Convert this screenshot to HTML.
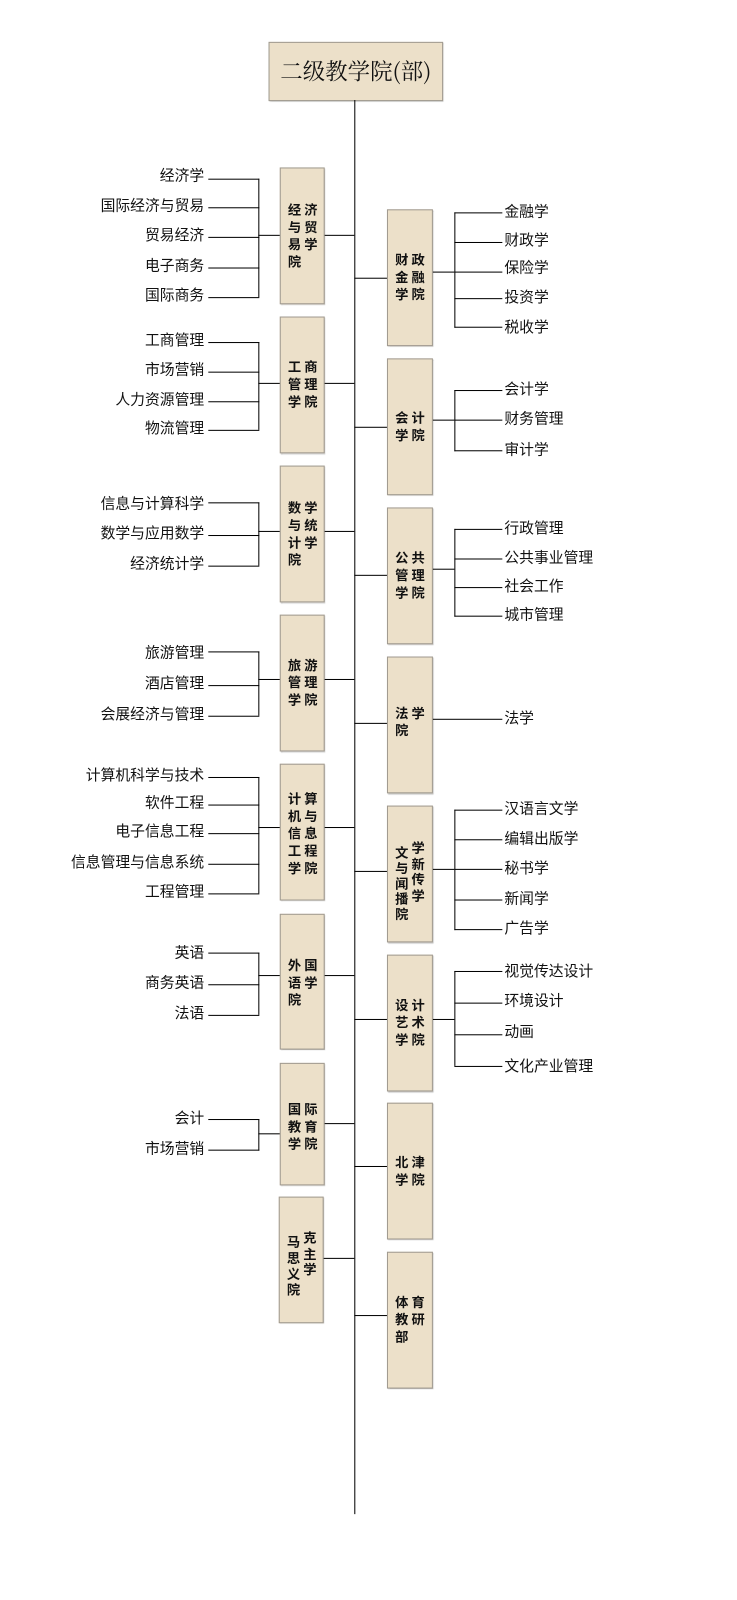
<!DOCTYPE html>
<html><head><meta charset="utf-8"><style>
body{margin:0;width:737px;height:1600px;background:#fff;position:relative;font-family:"Liberation Sans","Noto Sans CJK SC",sans-serif;overflow:hidden}
#w{position:absolute;left:0;top:0;width:722px;height:1567px;transform:scale(1.021);transform-origin:0 0}
.b{position:absolute;background:#ece0c9;border:1px solid #a09a90;box-sizing:border-box;box-shadow:1px 1px 1px #bbb}
.t{position:absolute;font-weight:bold;font-size:13px;line-height:17px;letter-spacing:3px;color:#111}
.h{position:absolute;height:1px;background:#000}
.v{position:absolute;width:1px;background:#000}
.l{position:absolute;font-size:14.5px;line-height:16px;color:#111;white-space:nowrap}
.lr{text-align:right;width:200px;left:0}
</style></head><body><div id="w">
<div class="b" style="left:263px;top:41px;width:171px;height:58px"></div>
<div style="position:absolute;left:263px;top:41px;width:171px;height:58px;line-height:58px;text-align:center;font-size:22px;font-family:'Noto Serif CJK SC',serif;color:#111">二级教学院(部)</div>
<div class="v" style="left:347px;top:98px;height:1385px"></div>

<!-- left boxes -->
<div class="b" style="left:274px;top:164px;width:44px;height:134px"></div><div class="t" style="left:282px;top:197px">经济<br>与贸<br>易学<br>院</div>
<div class="b" style="left:274px;top:310px;width:44px;height:134px"></div><div class="t" style="left:282px;top:351px">工商<br>管理<br>学院</div>
<div class="b" style="left:274px;top:456px;width:44px;height:134px"></div><div class="t" style="left:282px;top:489px">数学<br>与统<br>计学<br>院</div>
<div class="b" style="left:274px;top:602px;width:44px;height:134px"></div><div class="t" style="left:282px;top:643px">旅游<br>管理<br>学院</div>
<div class="b" style="left:274px;top:748px;width:44px;height:134px"></div><div class="t" style="left:282px;top:774px">计算<br>机与<br>信息<br>工程<br>学院</div>
<div class="b" style="left:274px;top:895px;width:44px;height:133px"></div><div class="t" style="left:282px;top:937px">外国<br>语学<br>院</div>
<div class="b" style="left:274px;top:1041px;width:44px;height:120px"></div><div class="t" style="left:282px;top:1078px">国际<br>教育<br>学院</div>
<div class="b" style="left:273px;top:1172px;width:44px;height:124px"></div><div class="t" style="left:281px;top:1209px;letter-spacing:0;line-height:15.5px">马<br>思<br>义<br>院</div><div class="t" style="left:297px;top:1205px;letter-spacing:0;line-height:15.5px">克<br>主<br>学</div>

<!-- right boxes -->
<div class="b" style="left:379px;top:205px;width:45px;height:134px"></div><div class="t" style="left:387px;top:246px">财政<br>金融<br>学院</div>
<div class="b" style="left:379px;top:351px;width:45px;height:134px"></div><div class="t" style="left:387px;top:401px">会计<br>学院</div>
<div class="b" style="left:379px;top:497px;width:45px;height:134px"></div><div class="t" style="left:387px;top:538px">公共<br>管理<br>学院</div>
<div class="b" style="left:379px;top:643px;width:45px;height:134px"></div><div class="t" style="left:387px;top:690px">法学<br>院</div>
<div class="b" style="left:379px;top:789px;width:45px;height:134px"></div><div class="t" style="left:387px;top:828px;letter-spacing:0;line-height:15px">文<br>与<br>闻<br>播<br>院</div><div class="t" style="left:403px;top:823px;letter-spacing:0;line-height:15.5px">学<br>新<br>传<br>学</div>
<div class="b" style="left:379px;top:935px;width:45px;height:134px"></div><div class="t" style="left:387px;top:976px">设计<br>艺术<br>学院</div>
<div class="b" style="left:379px;top:1080px;width:45px;height:134px"></div><div class="t" style="left:387px;top:1130px">北津<br>学院</div>
<div class="b" style="left:379px;top:1226px;width:45px;height:134px"></div><div class="t" style="left:387px;top:1267px">体育<br>教研<br>部</div>

<!-- trunk connectors -->
<div class="h" style="left:318px;top:230px;width:29px"></div>
<div class="h" style="left:318px;top:375px;width:29px"></div>
<div class="h" style="left:318px;top:520px;width:29px"></div>
<div class="h" style="left:318px;top:665px;width:29px"></div>
<div class="h" style="left:318px;top:810px;width:29px"></div>
<div class="h" style="left:318px;top:955px;width:29px"></div>
<div class="h" style="left:318px;top:1100px;width:29px"></div>
<div class="h" style="left:317px;top:1232px;width:30px"></div>
<div class="h" style="left:347px;top:272px;width:32px"></div>
<div class="h" style="left:347px;top:418px;width:32px"></div>
<div class="h" style="left:347px;top:563px;width:32px"></div>
<div class="h" style="left:347px;top:708px;width:32px"></div>
<div class="h" style="left:347px;top:853px;width:32px"></div>
<div class="h" style="left:347px;top:998px;width:32px"></div>
<div class="h" style="left:347px;top:1142px;width:32px"></div>
<div class="h" style="left:347px;top:1288px;width:32px"></div>

<!-- left leaf groups -->
<div class="h" style="left:253px;top:230px;width:21px"></div><div class="v" style="left:253px;top:175px;height:116px"></div>
<div class="h" style="left:204px;top:175px;width:50px"></div><div class="h" style="left:204px;top:203px;width:50px"></div><div class="h" style="left:204px;top:232px;width:50px"></div><div class="h" style="left:204px;top:262px;width:50px"></div><div class="h" style="left:204px;top:291px;width:50px"></div>
<div class="l lr" style="top:165px">经济学</div><div class="l lr" style="top:194px">国际经济与贸易</div><div class="l lr" style="top:223px">贸易经济</div><div class="l lr" style="top:253px">电子商务</div><div class="l lr" style="top:282px">国际商务</div>

<div class="h" style="left:253px;top:375px;width:21px"></div><div class="v" style="left:253px;top:335px;height:86px"></div>
<div class="h" style="left:204px;top:335px;width:50px"></div><div class="h" style="left:204px;top:364px;width:50px"></div><div class="h" style="left:204px;top:393px;width:50px"></div><div class="h" style="left:204px;top:421px;width:50px"></div>
<div class="l lr" style="top:326px">工商管理</div><div class="l lr" style="top:355px">市场营销</div><div class="l lr" style="top:384px">人力资源管理</div><div class="l lr" style="top:412px">物流管理</div>

<div class="h" style="left:253px;top:520px;width:21px"></div><div class="v" style="left:253px;top:492px;height:62px"></div>
<div class="h" style="left:204px;top:492px;width:50px"></div><div class="h" style="left:204px;top:524px;width:50px"></div><div class="h" style="left:204px;top:554px;width:50px"></div>
<div class="l lr" style="top:486px">信息与计算科学</div><div class="l lr" style="top:515px">数学与应用数学</div><div class="l lr" style="top:545px">经济统计学</div>

<div class="h" style="left:253px;top:665px;width:21px"></div><div class="v" style="left:253px;top:638px;height:63px"></div>
<div class="h" style="left:204px;top:638px;width:50px"></div><div class="h" style="left:204px;top:671px;width:50px"></div><div class="h" style="left:204px;top:701px;width:50px"></div>
<div class="l lr" style="top:632px">旅游管理</div><div class="l lr" style="top:662px">酒店管理</div><div class="l lr" style="top:692px">会展经济与管理</div>

<div class="h" style="left:253px;top:810px;width:21px"></div><div class="v" style="left:253px;top:761px;height:114px"></div>
<div class="h" style="left:204px;top:761px;width:50px"></div><div class="h" style="left:204px;top:788px;width:50px"></div><div class="h" style="left:204px;top:816px;width:50px"></div><div class="h" style="left:204px;top:846px;width:50px"></div><div class="h" style="left:204px;top:875px;width:50px"></div>
<div class="l lr" style="top:752px">计算机科学与技术</div><div class="l lr" style="top:779px">软件工程</div><div class="l lr" style="top:807px">电子信息工程</div><div class="l lr" style="top:837px">信息管理与信息系统</div><div class="l lr" style="top:866px">工程管理</div>

<div class="h" style="left:253px;top:955px;width:21px"></div><div class="v" style="left:253px;top:933px;height:61px"></div>
<div class="h" style="left:204px;top:933px;width:50px"></div><div class="h" style="left:204px;top:964px;width:50px"></div><div class="h" style="left:204px;top:994px;width:50px"></div>
<div class="l lr" style="top:926px">英语</div><div class="l lr" style="top:955px">商务英语</div><div class="l lr" style="top:985px">法语</div>

<div class="h" style="left:253px;top:1110px;width:21px"></div><div class="v" style="left:253px;top:1096px;height:31px"></div>
<div class="h" style="left:204px;top:1096px;width:50px"></div><div class="h" style="left:204px;top:1126px;width:50px"></div>
<div class="l lr" style="top:1088px">会计</div><div class="l lr" style="top:1118px">市场营销</div>

<!-- right leaf groups -->
<div class="h" style="left:424px;top:266px;width:21px"></div><div class="v" style="left:445px;top:208px;height:113px"></div>
<div class="h" style="left:445px;top:208px;width:47px"></div><div class="h" style="left:445px;top:237px;width:47px"></div><div class="h" style="left:445px;top:266px;width:47px"></div><div class="h" style="left:445px;top:292px;width:47px"></div><div class="h" style="left:445px;top:320px;width:47px"></div>
<div class="l" style="left:494px;top:200px">金融学</div><div class="l" style="left:494px;top:228px">财政学</div><div class="l" style="left:494px;top:255px">保险学</div><div class="l" style="left:494px;top:284px">投资学</div><div class="l" style="left:494px;top:313px">税收学</div>

<div class="h" style="left:424px;top:411px;width:21px"></div><div class="v" style="left:445px;top:382px;height:60px"></div>
<div class="h" style="left:445px;top:382px;width:47px"></div><div class="h" style="left:445px;top:411px;width:47px"></div><div class="h" style="left:445px;top:441px;width:47px"></div>
<div class="l" style="left:494px;top:374px">会计学</div><div class="l" style="left:494px;top:403px">财务管理</div><div class="l" style="left:494px;top:433px">审计学</div>

<div class="h" style="left:424px;top:557px;width:21px"></div><div class="v" style="left:445px;top:518px;height:86px"></div>
<div class="h" style="left:445px;top:518px;width:47px"></div><div class="h" style="left:445px;top:547px;width:47px"></div><div class="h" style="left:445px;top:575px;width:47px"></div><div class="h" style="left:445px;top:603px;width:47px"></div>
<div class="l" style="left:494px;top:510px">行政管理</div><div class="l" style="left:494px;top:539px">公共事业管理</div><div class="l" style="left:494px;top:567px">社会工作</div><div class="l" style="left:494px;top:595px">城市管理</div>

<div class="h" style="left:424px;top:704px;width:68px"></div>
<div class="l" style="left:494px;top:696px">法学</div>

<div class="h" style="left:424px;top:851px;width:21px"></div><div class="v" style="left:445px;top:793px;height:118px"></div>
<div class="h" style="left:445px;top:793px;width:47px"></div><div class="h" style="left:445px;top:822px;width:47px"></div><div class="h" style="left:445px;top:851px;width:47px"></div><div class="h" style="left:445px;top:881px;width:47px"></div><div class="h" style="left:445px;top:910px;width:47px"></div>
<div class="l" style="left:494px;top:785px">汉语言文学</div><div class="l" style="left:494px;top:814px">编辑出版学</div><div class="l" style="left:494px;top:843px">秘书学</div><div class="l" style="left:494px;top:873px">新闻学</div><div class="l" style="left:494px;top:902px">广告学</div>

<div class="h" style="left:424px;top:998px;width:21px"></div><div class="v" style="left:445px;top:951px;height:93px"></div>
<div class="h" style="left:445px;top:951px;width:47px"></div><div class="h" style="left:445px;top:982px;width:47px"></div><div class="h" style="left:445px;top:1013px;width:47px"></div><div class="h" style="left:445px;top:1044px;width:47px"></div>
<div class="l" style="left:494px;top:944px">视觉传达设计</div><div class="l" style="left:494px;top:973px">环境设计</div><div class="l" style="left:494px;top:1003px">动画</div><div class="l" style="left:494px;top:1037px">文化产业管理</div>
</div></body></html>
